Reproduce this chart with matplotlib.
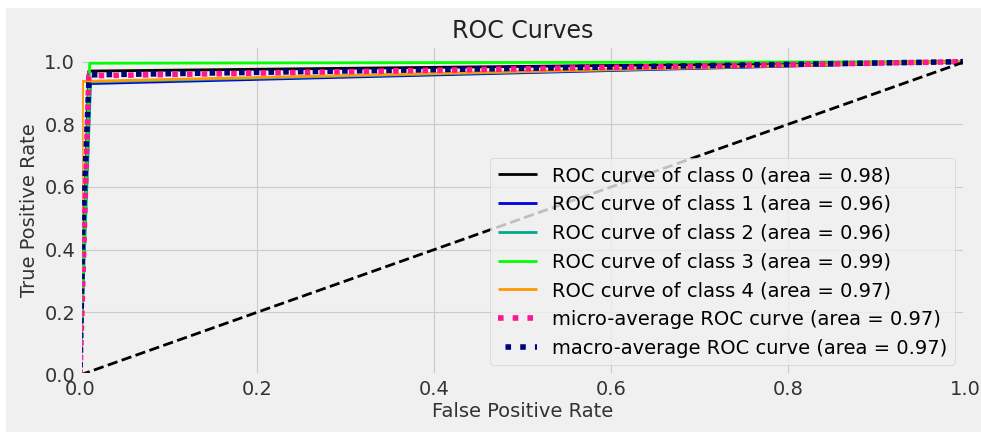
import matplotlib
matplotlib.use("Agg")
import matplotlib.pyplot as plt
from matplotlib.patches import Rectangle

plt.style.use("fivethirtyeight")

# ROC points (fpr, tpr per class)
class_names = ["0", "1", "2", "3", "4"]
class_auc = [0.98, 0.96, 0.96, 0.99, 0.97]
class_fpr = [
    [0.0, 0.010, 1.0],
    [0.0, 0.010, 1.0],
    [0.0, 0.012, 1.0],
    [0.0, 0.011, 1.0],
    [0.0, 0.003, 1.0],
]
class_tpr = [
    [0.0, 0.970, 1.0],
    [0.0, 0.930, 1.0],
    [0.0, 0.935, 1.0],
    [0.0, 0.995, 1.0],
    [0.0, 0.937, 1.0],
]

micro_fpr = [0.0, 0.010, 1.0]
micro_tpr = [0.0, 0.955, 1.0]
micro_auc = 0.97

macro_fpr = [0.0, 0.003, 0.010, 0.011, 0.012, 1.0]
macro_tpr = [0.0, 0.450, 0.930, 0.955, 0.958, 1.0]
macro_auc = 0.97

W, H = 981, 432
fig = plt.figure(figsize=(W / 100, H / 100), dpi=100)
fig.patch.set_facecolor("#f0f0f0")
# white screenshot margin at top / left
fig.patches.append(Rectangle((0, 1 - 8 / H), 1, 8 / H, transform=fig.transFigure,
                             facecolor="white", edgecolor="none", zorder=-1))
fig.patches.append(Rectangle((0, 0), 6 / W, 1, transform=fig.transFigure,
                             facecolor="white", edgecolor="none", zorder=-1))

ax = fig.add_axes([80 / W, 57 / H, 885 / W, (375 - 46) / H])
ax.set_facecolor("#f0f0f0")

cmap = plt.get_cmap("nipy_spectral")
for i, name in enumerate(class_names):
    ax.plot(class_fpr[i], class_tpr[i], lw=2, color=cmap(float(i) / len(class_names)),
            label="ROC curve of class {0} (area = {1:0.2f})".format(name, class_auc[i]))

ax.plot(micro_fpr, micro_tpr, color="deeppink", linestyle=":", linewidth=4,
        label="micro-average ROC curve (area = {0:0.2f})".format(micro_auc))
ax.plot(macro_fpr, macro_tpr, color="navy", linestyle=(1.3, (1, 1.65)), linewidth=4,
        label="macro-average ROC curve (area = {0:0.2f})".format(macro_auc))

ax.plot([0, 1], [0, 1], "k--", lw=2)
ax.set_xlim([0.0, 1.0])
ax.set_ylim([0.0, 1.05])
ax.set_title("ROC Curves", fontsize=17, color="#222222")
ax.set_xlabel("False Positive Rate", fontsize=14, color="#333333", labelpad=2)
ax.set_ylabel("True Positive Rate", fontsize=14, color="#333333", labelpad=4)
ax.tick_params(labelsize=14, colors="#333333")
ax.grid(True, color="#cbcbcb", linewidth=0.8)
ax.legend(loc="lower right", fontsize=14, framealpha=0.8)

fig.savefig("out.png", dpi=100, facecolor=fig.get_facecolor())
